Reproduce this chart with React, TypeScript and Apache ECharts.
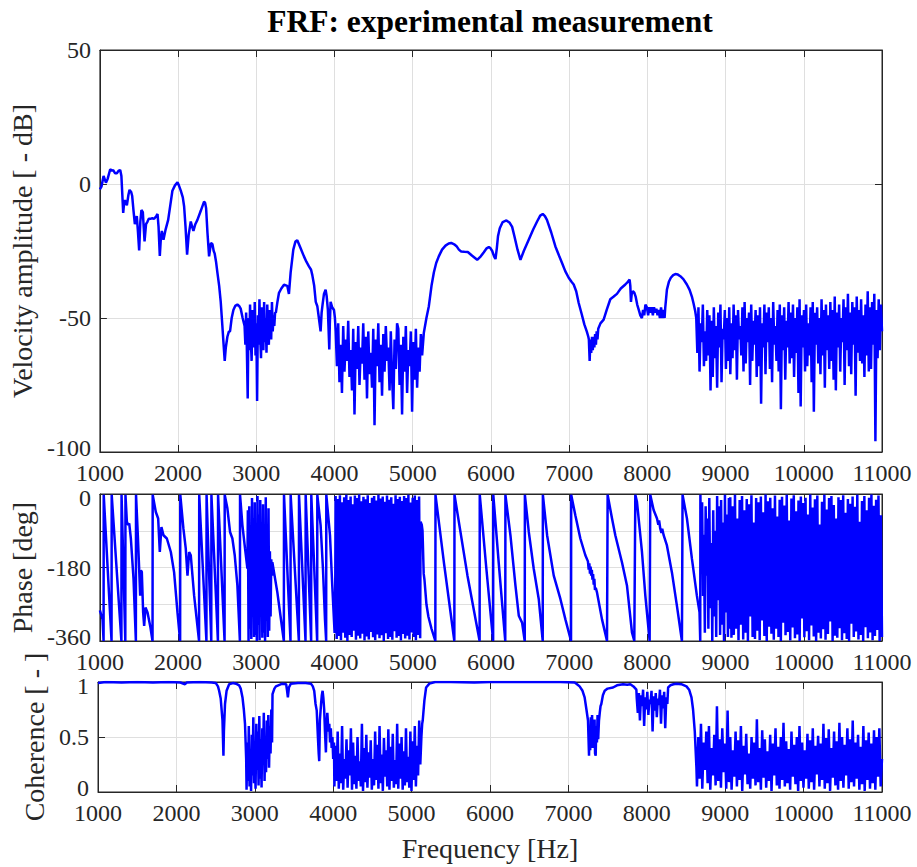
import React, { useEffect, useRef } from "react";
import * as echarts from "echarts";

// ---------- Velocity amplitude [dB] ----------
const amplitudeLow: [number, number][] = [
  [1000, -2], [1020, -1], [1047, 3], [1077, 0.5], [1100, 2], [1132, 5.5], [1150, 5], [1170, 5.2],
  [1195, 4], [1217, 4], [1240, 5], [1260, 5.2], [1275, 3], [1285, -3], [1298, -10.8], [1310, -7],
  [1320, -6], [1345, -8], [1365, -4], [1379, -2.2], [1400, -3], [1413, -4.5], [1430, -10], [1447, -15],
  [1460, -13], [1472, -12], [1487, -18], [1502, -24.8], [1517, -14], [1531, -9.7], [1549, -10.5],
  [1560, -16], [1571, -21.4], [1590, -15], [1609, -14], [1625, -13], [1643, -13], [1670, -12.8],
  [1694, -13], [1720, -12], [1737, -11.2], [1750, -16], [1766, -26.8], [1780, -20], [1792, -17.5],
  [1813, -20.8], [1840, -17], [1873, -13.4], [1900, -8], [1927, -2.5], [1960, -0.5], [1992, 0.6],
  [2010, -0.5], [2034, -2.5], [2060, -5], [2077, -8.4], [2095, -16], [2115, -26.4], [2135, -19],
  [2162, -14], [2180, -16], [2196, -17.5], [2220, -15], [2247, -13.4], [2290, -10], [2332, -6.6],
  [2345, -7], [2358, -9], [2375, -18], [2396, -27], [2420, -22], [2439, -22.5], [2455, -25],
  [2468, -26], [2485, -29], [2502, -33], [2525, -38], [2545, -44], [2566, -53], [2582, -60],
  [2596, -66], [2610, -61], [2630, -57], [2650, -55], [2664, -55], [2685, -50], [2707, -47],
  [2730, -45.5], [2758, -45], [2780, -45.5], [2800, -46.5], [2825, -50], [2850, -53],
];
const amplitudeNoiseA: number[] = [
  -60, -48, -63, -80, -50, -62, -45, -58, -66, -47, -55, -61, -44, -64, -52, -81, -49, -60, -43, -57,
  -65, -46, -53, -62, -44, -59, -50, -63, -45, -56, -60, -47, -52, -58, -44, -55, -49, -53, -48,
];
const amplitudeMid: [number, number][] = [
  [3250, -48], [3270, -44], [3290, -40.6], [3320, -39], [3354, -37.6], [3396, -38], [3417, -41],
  [3439, -33], [3473, -24.5], [3500, -21.5], [3524, -21], [3560, -23.5], [3609, -27], [3640, -29],
  [3673, -30.7], [3700, -32], [3716, -34], [3740, -38], [3760, -44], [3780, -45.6], [3800, -50],
  [3822, -55], [3835, -48], [3847, -45], [3865, -41], [3886, -39.4], [3900, -42], [3915, -47],
  [3925, -55], [3933, -61.7], [3940, -52], [3950, -44], [3970, -46], [3993, -47], [4005, -50],
];
const amplitudeNoiseB: number[] = [
  -55, -68, -52, -74, -60, -78, -53, -70, -58, -66, -51, -72, -62, -77, -54, -86, -59, -69, -53, -75,
  -61, -67, -52, -73, -57, -80, -55, -71, -63, -76, -54, -90, -58, -68, -52, -74, -60, -79, -56, -70,
  -53, -66, -61, -77, -55, -72, -84, -58, -69, -52, -54, -75, -60, -86, -57, -70, -53, -78, -62, -68,
  -55, -85, -59, -73, -54, -76, -61, -70, -56, -64,
];
const amplitudeHigh: [number, number][] = [
  [5130, -60], [5142, -55.5], [5175, -50], [5206, -45.6], [5240, -38], [5270, -33], [5300, -29.5],
  [5333, -27], [5375, -24.5], [5419, -23], [5460, -22.2], [5492, -22], [5530, -22.5], [5560, -23.2],
  [5590, -24.5], [5619, -25.2], [5660, -25.3], [5704, -25.4], [5760, -26.8], [5824, -28.3],
  [5870, -27], [5909, -25.5], [5945, -24], [5973, -23.5], [5995, -24], [6016, -25], [6040, -27],
  [6058, -28], [6075, -24], [6090, -19.5], [6113, -16.5], [6150, -14.2], [6198, -13.6], [6240, -14.5],
  [6271, -16], [6300, -19.5], [6340, -24.5], [6377, -28.3], [6420, -25], [6483, -20.8], [6540, -17],
  [6590, -14], [6630, -11.8], [6662, -11.2], [6690, -12], [6716, -13.4], [6770, -18], [6824, -23.3],
  [6870, -26.7], [6909, -29.5], [6950, -32.5], [6994, -35], [7030, -36.5], [7058, -37.5], [7090, -40],
  [7122, -44.4], [7160, -48.5], [7194, -52.4], [7225, -55], [7245, -57], [7252, -58], [7262, -66],
  [7272, -58], [7282, -63], [7292, -57], [7302, -62], [7312, -57], [7322, -61], [7332, -56],
  [7342, -60], [7352, -55], [7362, -58], [7372, -54], [7400, -52], [7441, -50.6], [7480, -47],
  [7526, -43], [7570, -42], [7611, -41], [7660, -39], [7718, -37.5], [7750, -36.5], [7773, -35.7],
  [7782, -38], [7790, -44], [7800, -41], [7815, -40], [7833, -40.5], [7850, -42], [7870, -45],
  [7890, -47], [7910, -49], [7930, -50], [7945, -47], [7960, -49], [7975, -45], [7994, -46],
  [8010, -49], [8025, -46], [8040, -48], [8055, -46], [8070, -49], [8085, -46], [8100, -48],
  [8115, -46.5], [8130, -49], [8145, -47], [8160, -50], [8175, -46], [8190, -50], [8205, -47],
  [8220, -50], [8229, -46], [8250, -39.4], [8275, -36.5], [8300, -35], [8330, -34], [8357, -33.6],
  [8390, -33.8], [8421, -34.4], [8460, -35.5], [8505, -37.5], [8540, -39.5], [8569, -42],
  [8590, -44.5], [8612, -47.5],
];
const amplitudeNoiseC: number[] = [
  -50, -63, -46, -70, -52, -59, -45, -68, -55, -66, -47, -64, -49, -77, -51, -72, -46, -65, -53, -76,
  -48, -61, -45, -74, -54, -58, -47, -69, -50, -66, -46, -71, -52, -65, -45, -62, -49, -73, -47, -58,
  -53, -64, -46, -70, -44, -67, -50, -59, -48, -75, -45, -66, -51, -60, -47, -72, -49, -68, -46, -82,
  -52, -61, -45, -71, -48, -59, -46, -69, -50, -74, -44, -60, -53, -66, -47, -70, -45, -84, -49, -62,
  -46, -73, -51, -61, -44, -67, -48, -65, -45, -72, -50, -63, -46, -78, -43, -83, -49, -61, -47, -70,
  -45, -68, -52, -64, -46, -74, -44, -85, -48, -60, -46, -67, -50, -71, -43, -64, -47, -76, -45, -62,
  -49, -69, -44, -66, -47, -73, -42, -77, -48, -61, -45, -70, -50, -59, -43, -75, -46, -62, -41, -68,
  -48, -71, -44, -60, -46, -79, -42, -63, -47, -66, -43, -67, -49, -72, -45, -64, -40, -70, -46, -69,
  -44, -60, -41, -96, -47, -65, -43, -62, -45, -55,
];

// ---------- Phase [deg] ----------
const phaseLow: [number, number][] = [
  [1000, -285], [1020, -298], [1034, -307], [1047, -360], [1049, -2],
  [1149, -360], [1151, -2], [1275, -360], [1277, -2], [1325, -360], [1327, -2],
  [1345, -68], [1362, -76], [1375, -72], [1396, -109], [1430, -208], [1460, -360], [1462, -2],
  [1485, -101], [1502, -183], [1515, -249], [1524, -187], [1536, -191], [1553, -290], [1566, -323],
  [1583, -278], [1609, -290], [1643, -323], [1673, -360], [1675, -2],
  [1715, -44], [1745, -60], [1766, -142], [1787, -81], [1813, -101], [1856, -109], [1907, -142],
  [1949, -192], [1992, -290], [2026, -360], [2028, -2],
  [2068, -85], [2098, -134], [2120, -200], [2141, -142], [2162, -150], [2205, -249], [2268, -360], [2270, -2],
  [2362, -360], [2364, -2], [2424, -360], [2426, -2], [2509, -360], [2511, -2], [2594, -360], [2596, -2],
  [2630, -35], [2664, -93], [2694, -109], [2724, -150], [2758, -224], [2790, -360], [2792, -2],
  [2822, -76], [2856, -134], [2886, -183],
];
const phaseNoiseA: number[] = [
  -40, -360, -30, -330, -80, -355, -10, -300, -60, -350, -20, -345, -100, -360, -5, -320, -50, -358,
  -15, -290, -70, -352, -25, -340, -120, -360, -8, -310, -90, -350, -35, -335, -140, -300, -160, -200,
];
const phaseMid: [number, number][] = [
  [3205, -167], [3269, -241], [3352, -360], [3354, -2], [3437, -360], [3439, -2], [3544, -360], [3546, -2],
  [3629, -360], [3631, -2], [3701, -360], [3703, -2], [3778, -360], [3780, -2], [3822, -76], [3852, -183],
  [3878, -307], [3893, -360], [3895, -2], [3942, -101], [3971, -224], [4001, -340], [4010, -200],
];
const phaseNoiseB: number[] = [
  -5, -355, -12, -348, -3, -358, -20, -340, -8, -352, -2, -360, -15, -345, -6, -350, -25, -335, -4, -357,
  -10, -347, -1, -354, -18, -342, -7, -359, -13, -349, -3, -356, -22, -338, -9, -351, -5, -358, -16, -344,
  -2, -353, -11, -346, -6, -360, -19, -341, -4, -355, -14, -350, -8, -357, -24, -336, -3, -352, -12, -348,
  -7, -359, -17, -343, -5, -354, -10, -347, -2, -356, -21, -339, -9, -350, -4, -358, -15, -345, -6, -353,
];
const phaseHigh: [number, number][] = [
  [5100, -68], [5115, -75], [5125, -90], [5140, -195], [5150, -210], [5175, -270], [5200, -300],
  [5240, -330], [5289, -360], [5291, -2], [5400, -170], [5532, -360], [5534, -2], [5700, -200],
  [5855, -360], [5857, -2], [5940, -180], [6028, -360], [6030, -2], [6100, -170], [6183, -360], [6185, -2],
  [6249, -101], [6313, -224], [6356, -298], [6398, -315], [6432, -360], [6434, -2], [6484, -93],
  [6547, -183], [6611, -257], [6662, -360], [6664, -2], [6718, -101], [6803, -200], [6888, -257],
  [6952, -307], [7024, -360], [7026, -2], [7079, -52], [7143, -109], [7207, -150], [7240, -165],
  [7250, -185], [7258, -170], [7266, -195], [7274, -178], [7282, -200], [7290, -186], [7298, -210],
  [7306, -196], [7314, -222], [7322, -208], [7330, -235], [7340, -230], [7356, -241], [7420, -307],
  [7484, -360], [7492, -2], [7548, -60], [7590, -101], [7675, -167], [7739, -224], [7803, -339],
  [7833, -360], [7846, -2], [7867, -19], [7931, -142], [7974, -249], [8029, -360], [8037, -2],
  [8080, -39], [8123, -60], [8140, -75], [8150, -65], [8165, -85], [8180, -95], [8190, -85], [8208, -101],
  [8250, -126], [8314, -192], [8378, -274], [8442, -360], [8450, -2], [8506, -60], [8570, -159],
  [8633, -249], [8667, -290], [8676, -360], [8678, -2], [8690, -150], [8700, -20], [8712, -250],
  [8722, -100], [8735, -340], [8745, -30], [8757, -200], [8768, -60], [8780, -330], [8792, -10],
  [8805, -280], [8818, -120], [8830, -360], [8842, -40], [8855, -300], [8868, -90], [8880, -350],
  [8892, -5], [8905, -260], [8918, -30], [8930, -345], [8943, -15], [8955, -320], [8968, -70],
  [8980, -360], [8992, -2], [9005, -290], [9018, -50], [9030, -350], [9042, -10], [9052, -330],
];
const phaseNoiseC: number[] = [
  -8, -352, -30, -345, -2, -330, -60, -358, -15, -320, -5, -356, -40, -340, -12, -360, -25, -300, -3, -350,
  -70, -355, -10, -335, -20, -358, -6, -310, -45, -348, -1, -360, -18, -325, -9, -342, -35, -357, -4, -330,
  -55, -350, -14, -360, -7, -315, -28, -346, -2, -338, -65, -359, -11, -327, -3, -353, -42, -344, -16, -360,
  -6, -305, -22, -351, -9, -336, -50, -358, -1, -322, -33, -349, -13, -360, -4, -340, -75, -354, -19, -331,
  -2, -357, -38, -343, -10, -312, -5, -360, -27, -347, -60, -352, -8, -329, -15, -358, -3, -341, -46, -355,
  -12, -360, -24, -318, -6, -350, -31, -337, -2, -356, -68, -345, -17, -360, -5, -326, -40, -353, -9, -339,
  -1, -358, -29, -348, -14, -333, -4, -360, -52, -350,
];

// ---------- Coherence [-] ----------
const coherenceLow: [number, number][] = [
  [1000, 0.99], [1100, 1], [1300, 0.995], [1500, 1], [1700, 0.995], [1900, 1], [2050, 0.995],
  [2110, 0.98], [2130, 0.995], [2300, 1], [2450, 0.995], [2503, 0.99], [2530, 0.96], [2545, 0.92],
  [2565, 0.85], [2588, 0.65], [2600, 0.33], [2606, 0.55], [2620, 0.8], [2640, 0.92], [2673, 0.98],
  [2720, 0.99], [2760, 0.985], [2800, 0.97], [2820, 0.94], [2843, 0.86], [2860, 0.75], [2875, 0.62],
  [2890, 0.3],
];
const coherenceNoiseA: number[] = [
  0.02, 0.45, 0.1, 0.6, 0.05, 0.35, 0.01, 0.52, 0.15, 0.68, 0.08, 0.4, 0.03, 0.62, 0.2, 0.55, 0.06, 0.69,
  0.12, 0.48, 0.04, 0.58, 0.25, 0.72, 0.1, 0.5, 0.18, 0.65, 0.3, 0.7, 0.22, 0.6, 0.35, 0.75, 0.45,
];
const coherenceMid: [number, number][] = [
  [3226, 0.89], [3250, 0.94], [3269, 0.96], [3300, 0.97], [3350, 0.985], [3400, 0.98], [3410, 0.93],
  [3422, 0.86], [3435, 0.95], [3460, 0.985], [3550, 0.99], [3650, 0.99], [3716, 0.985], [3740, 0.96],
  [3758, 0.92], [3775, 0.8], [3790, 0.74], [3805, 0.5], [3815, 0.35], [3822, 0.28], [3830, 0.65],
  [3845, 0.8], [3855, 0.88], [3865, 0.92], [3875, 0.85], [3885, 0.75], [3895, 0.55], [3907, 0.36],
  [3915, 0.6], [3925, 0.72], [3940, 0.55], [3950, 0.62], [3960, 0.45], [3970, 0.58], [3980, 0.4],
  [3990, 0.5], [4000, 0.3], [4010, 0.45],
];
const coherenceNoiseB: number[] = [
  0.05, 0.42, 0.1, 0.55, 0.03, 0.35, 0.08, 0.6, 0.02, 0.3, 0.12, 0.48, 0.04, 0.38, 0.15, 0.58, 0.02, 0.45,
  0.07, 0.33, 0.03, 0.5, 0.1, 0.28, 0.05, 0.62, 0.01, 0.4, 0.09, 0.52, 0.04, 0.36, 0.13, 0.47, 0.02, 0.3,
  0.06, 0.55, 0.11, 0.43, 0.03, 0.6, 0.08, 0.34, 0.01, 0.49, 0.14, 0.38, 0.05, 0.57, 0.02, 0.41, 0.1, 0.53,
  0.04, 0.29, 0.07, 0.62, 0.03, 0.44, 0.12, 0.5, 0.02, 0.37, 0.06, 0.58, 0.09, 0.32, 0.04, 0.55, 0.01, 0.46,
  0.11, 0.6, 0.05, 0.42, 0.15, 0.65, 0.25, 0.5,
];
const coherenceHigh: [number, number][] = [
  [5135, 0.62], [5142, 0.65], [5163, 0.83], [5185, 0.95], [5227, 0.985], [5300, 1], [5500, 1],
  [5800, 0.995], [6000, 1], [6300, 1], [6600, 1], [6900, 1], [7080, 0.995], [7110, 0.98], [7143, 0.96],
  [7180, 0.92], [7207, 0.86], [7230, 0.75], [7250, 0.65], [7263, 0.33], [7270, 0.6], [7278, 0.38],
  [7286, 0.68], [7294, 0.45], [7302, 0.7], [7310, 0.4], [7318, 0.62], [7326, 0.5], [7334, 0.66],
  [7340, 0.35], [7348, 0.33], [7356, 0.6], [7364, 0.45], [7372, 0.7], [7380, 0.48], [7390, 0.65],
  [7400, 0.72], [7410, 0.78], [7420, 0.8], [7440, 0.88], [7463, 0.92], [7500, 0.94], [7569, 0.95],
  [7620, 0.97], [7697, 0.98], [7750, 0.975], [7790, 0.98], [7830, 0.96], [7867, 0.93],
];
const coherenceNoiseMid: number[] = [
  0.85, 0.72, 0.9, 0.65, 0.88, 0.78, 0.93, 0.6, 0.86, 0.75, 0.91, 0.7, 0.84, 0.8, 0.92, 0.55, 0.87, 0.74,
  0.9, 0.68, 0.85, 0.79, 0.93, 0.62, 0.88, 0.76, 0.91, 0.58, 0.86, 0.8,
];
const coherenceTail: [number, number][] = [
  [8272, 0.95], [8300, 0.97], [8340, 0.98], [8378, 0.985], [8440, 0.98], [8506, 0.96], [8540, 0.93],
  [8570, 0.86], [8590, 0.75], [8612, 0.55], [8633, 0.22],
];
const coherenceNoiseC: number[] = [
  0.05, 0.5, 0.12, 0.62, 0.03, 0.45, 0.2, 0.55, 0.08, 0.6, 0.02, 0.4, 0.15, 0.52, 0.06, 0.78, 0.1, 0.48,
  0.04, 0.58, 0.18, 0.44, 0.03, 0.74, 0.09, 0.5, 0.02, 0.38, 0.14, 0.55, 0.05, 0.47, 0.11, 0.6, 0.01, 0.42,
  0.16, 0.53, 0.07, 0.35, 0.03, 0.5, 0.12, 0.45, 0.06, 0.66, 0.09, 0.4, 0.02, 0.56, 0.13, 0.48, 0.04, 0.37,
  0.1, 0.52, 0.01, 0.44, 0.15, 0.58, 0.06, 0.41, 0.03, 0.5, 0.11, 0.63, 0.05, 0.46, 0.08, 0.39, 0.02, 0.55,
  0.14, 0.43, 0.07, 0.5, 0.01, 0.6, 0.1, 0.45, 0.04, 0.38, 0.12, 0.53, 0.03, 0.47, 0.09, 0.58, 0.02, 0.42,
  0.16, 0.51, 0.05, 0.44, 0.11, 0.62, 0.03, 0.49, 0.08, 0.57, 0.01, 0.4, 0.13, 0.55, 0.06, 0.46, 0.02, 0.63,
  0.1, 0.5, 0.04, 0.43, 0.15, 0.58, 0.03, 0.48, 0.09, 0.65, 0.05, 0.45, 0.12, 0.52, 0.02, 0.41, 0.07, 0.6,
  0.01, 0.47, 0.11, 0.54, 0.03, 0.44, 0.08, 0.56, 0.02, 0.5, 0.14, 0.58, 0.05, 0.3,
];

// frequency grid of a densely-sampled stretch
function spread(start: number, end: number, values: number[]): [number, number][] {
  const step = (end - start) / (values.length - 1);
  return values.map((v, i) => [start + i * step, v] as [number, number]);
}

const amplitudeData = [
  ...amplitudeLow, ...spread(2860, 3240, amplitudeNoiseA), ...amplitudeMid,
  ...spread(4015, 5120, amplitudeNoiseB), ...amplitudeHigh, ...spread(8625, 11000, amplitudeNoiseC),
];
const phaseData = [
  ...phaseLow, ...spread(2892, 3200, phaseNoiseA), ...phaseMid,
  ...spread(4014, 5095, phaseNoiseB), ...phaseHigh, ...spread(9060, 11000, phaseNoiseC),
];
const coherenceData = [
  ...coherenceLow, ...spread(2895, 3220, coherenceNoiseA), ...coherenceMid,
  ...spread(4015, 5125, coherenceNoiseB), ...coherenceHigh, ...spread(7872, 8262, coherenceNoiseMid),
  ...coherenceTail, ...spread(8640, 11000, coherenceNoiseC),
];

const FONT = '"Liberation Serif", "Times New Roman", Times, serif';
const AXIS_COLOR = "#262626";
const GRID_COLOR = "#dfdfdf";
const LINE_COLOR = "#0000ff";
const TICK_FONT = 24;
const NAME_FONT = 28;

const grids = [
  { left: 98, top: 50, width: 784, height: 402 },
  { left: 98, top: 494, width: 784, height: 147 },
  { left: 98, top: 682, width: 784, height: 110 },
];
const yRanges = [
  { min: -100, max: 50, interval: 50, name: "Velocity amplitude [ - dB]" },
  { min: -360, max: 0, interval: 90, name: "Phase [deg]" },
  { min: 0, max: 1, interval: 0.5, name: "Coherence [ - ]" },
];

export default function App() {
  const ref = useRef<HTMLDivElement>(null);
  useEffect(() => {
    if (!ref.current) return;
    const chart = echarts.init(ref.current, null, { renderer: "svg" });
    const line = { show: true, onZero: false, lineStyle: { color: AXIS_COLOR, width: 1 } };
    const tick = { show: true, inside: true, length: 7, lineStyle: { color: AXIS_COLOR, width: 1 } };
    const labelFont = { color: AXIS_COLOR, fontFamily: FONT, fontSize: TICK_FONT, lineHeight: 18 };
    const xAxis: any[] = [];
    const yAxis: any[] = [];
    grids.forEach((_, g) => {
      xAxis.push({
        type: "value", gridIndex: g, min: 1000, max: 11000, interval: 1000, position: "bottom",
        axisLine: line, axisTick: tick,
        axisLabel: { margin: 12, ...labelFont, formatter: (v: number) => String(v) },
        splitLine: { show: true, lineStyle: { color: GRID_COLOR, width: 1 } },
        name: g === 2 ? "Frequency [Hz]" : "", nameLocation: "middle", nameGap: 42,
        nameTextStyle: { fontFamily: FONT, fontSize: NAME_FONT, color: AXIS_COLOR },
      });
      xAxis.push({
        type: "value", gridIndex: g, min: 1000, max: 11000, interval: 1000, position: "top",
        axisLine: line, axisTick: tick, axisLabel: { show: false }, splitLine: { show: false },
      });
      const r = yRanges[g];
      yAxis.push({
        type: "value", gridIndex: g, min: r.min, max: r.max, interval: r.interval, position: "left",
        axisLine: line, axisTick: tick,
        axisLabel: {
          margin: 9, ...labelFont,
          formatter: (v: number) => {
            if (g === 1 && v % 180 !== 0) return "";
            if (v === r.min) return `{up|${v}}`;
            if (v === r.max && g > 0) return `{down|${v}}`;
            return String(v);
          },
          rich: {
            up: { ...labelFont, padding: [0, 0, 8, 0] },
            down: { ...labelFont, padding: [8, 0, 0, 0] },
          },
        },
        splitLine: { show: true, lineStyle: { color: GRID_COLOR, width: 1 } },
        name: r.name, nameLocation: "middle", nameGap: 48,
        nameTextStyle: { fontFamily: FONT, fontSize: NAME_FONT, color: AXIS_COLOR },
      });
      yAxis.push({
        type: "value", gridIndex: g, min: r.min, max: r.max, interval: r.interval, position: "right",
        axisLine: line, axisTick: tick, axisLabel: { show: false }, splitLine: { show: false },
      });
    });
    const mk = (data: [number, number][], g: number) => ({
      type: "line", xAxisIndex: g * 2, yAxisIndex: g * 2, data, showSymbol: false, symbol: "none",
      clip: true, lineStyle: { color: LINE_COLOR, width: 2.5 }, itemStyle: { color: LINE_COLOR },
      emphasis: { disabled: true }, z: 3,
    });
    chart.setOption({
      animation: false,
      backgroundColor: "#ffffff",
      title: {
        text: "FRF: experimental measurement", left: 485, top: 0, textAlign: "center",
        textStyle: { fontFamily: FONT, fontWeight: "bold", fontSize: 31.5, color: "#000000" },
      },
      grid: grids.map((gr) => ({ ...gr, show: true, borderColor: AXIS_COLOR, borderWidth: 1, backgroundColor: "#ffffff" })),
      xAxis,
      yAxis,
      series: [mk(amplitudeData, 0), mk(phaseData, 1), mk(coherenceData, 2)],
    });
    return () => chart.dispose();
  }, []);
  return <div ref={ref} style={{ position: "fixed", left: 0, top: 0, width: 917, height: 867 }} />;
}
